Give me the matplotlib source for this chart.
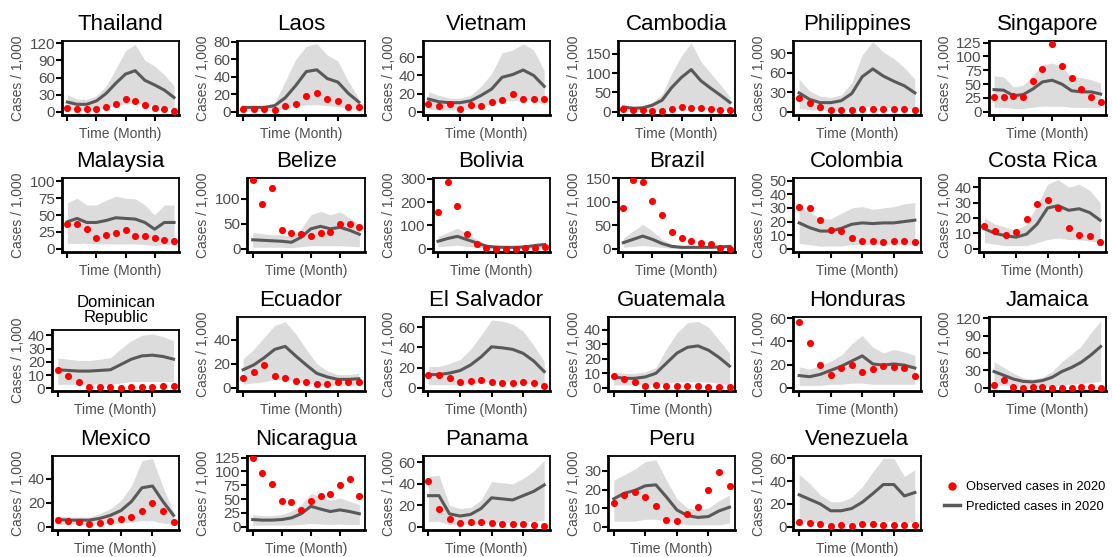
import matplotlib.pyplot as plt
from matplotlib.lines import Line2D

plt.rcParams['font.family'] = ['Liberation Sans', 'DejaVu Sans']

months = list(range(1, 13))

countries = ['Thailand', 'Laos', 'Vietnam', 'Cambodia', 'Philippines', 'Singapore',
             'Malaysia', 'Belize', 'Bolivia', 'Brazil', 'Colombia', 'Costa Rica',
             'Dominican\nRepublic', 'Ecuador', 'El Salvador', 'Guatemala', 'Honduras', 'Jamaica',
             'Mexico', 'Nicaragua', 'Panama', 'Peru', 'Venezuela']

observed = [
    [6, 4, 4, 5, 8, 13, 22, 18, 11, 6, 4, 2],
    [3, 3, 3, 2, 7, 9, 18, 22, 15, 12, 5, 5],
    [9, 6, 8, 3, 7, 6, 11, 13, 20, 14, 14, 14],
    [6, 5, 4, 2, 3, 6, 12, 10, 9, 7, 5, 5],
    [21, 14, 7, 2, 2, 2, 4, 4, 4, 4, 4, 2],
    [26, 27, 28, 26, 56, 78, 123, 83, 61, 42, 26, 18],
    [36, 36, 30, 16, 21, 24, 28, 19, 19, 16, 13, 11],
    [138, 90, 122, 38, 31, 29, 26, 31, 34, 49, 49, 43],
    [158, 285, 182, 62, 22, 3, 1, 1, 1, 2, 4, 8],
    [88, 147, 143, 101, 73, 35, 23, 16, 13, 10, 2, 0],
    [31, 30, 21, 14, 13, 8, 6, 6, 5, 6, 6, 5],
    [14.5, 11.5, 9, 11, 19.5, 29, 31.5, 26.5, 13.5, 9, 8.5, 4.5],
    [14, 9, 4.5, 1, 1, 1, 0.5, 1, 1, 1, 1.5, 1.5],
    [8, 13.5, 19, 9.5, 8.5, 5.5, 4.5, 3.5, 3.5, 5, 5, 4.5],
    [13, 12.5, 9.5, 6, 6.5, 7.5, 6, 4.5, 5, 5.5, 4.5, 2],
    [8, 6, 4, 1.5, 2, 1.5, 1.5, 1, 1, 0.5, 0.5, 0.5],
    [57, 39, 20, 11, 17, 19.5, 13.5, 16.5, 18.5, 17.5, 17, 10.5],
    [5, 13, 2, 0, 1, 1.5, 0, 0, 0, 0.5, 1, 0],
    [6, 5, 4, 2, 3.5, 5, 6.5, 8.5, 13.5, 20, 13, 4],
    [125, 98, 77, 46, 45, 31, 46, 56, 59, 76, 87, 56],
    [43, 17, 7.5, 3.5, 4, 4, 3.5, 3, 2.5, 3, 2, 0.5],
    [13, 17, 18.5, 16, 11, 3.5, 3, 7, 10.5, 19.5, 29.5, 22],
    [4.5, 3.5, 2, 1, 1.5, 1, 2, 2, 1.5, 1.5, 1.5, 1.5],
]

predicted = [
    [17, 13, 13, 19, 32, 50, 66, 72, 55, 47, 38, 25],
    [5, 5, 5, 7, 16, 30, 46, 48, 38, 34, 21, 11],
    [14, 11, 10, 10, 12, 18, 25, 38, 41, 46, 40, 28],
    [12, 9, 10, 17, 30, 63, 89, 109, 80, 61, 43, 24],
    [29, 19, 14, 14, 17, 28, 54, 66, 55, 47, 40, 29],
    [40, 39, 29, 31, 41, 54, 57, 50, 38, 36, 36, 32],
    [40, 45, 39, 39, 42, 46, 45, 44, 39, 29, 39, 39],
    [18, 17, 16, 15, 13, 23, 40, 45, 40, 43, 37, 29],
    [32, 44, 53, 39, 25, 11, 7, 6, 6, 8, 14, 18],
    [13, 20, 27, 20, 11, 5, 3, 3, 3, 3, 4, 5],
    [19, 15.5, 13, 13, 15, 18, 19, 18.5, 19, 19, 20, 21],
    [13, 10, 8.5, 7.5, 9.5, 16, 26.5, 28, 25, 26, 23.5, 18.5],
    [14, 13.5, 13, 13, 13.5, 14, 18, 22, 24.5, 25, 24, 22],
    [15, 19, 25, 32, 34.5, 26.5, 19, 12, 9, 7, 7, 7.5],
    [13, 13, 14.5, 17, 22.5, 30.5, 40.5, 39.5, 38, 34, 26.5, 16],
    [7.5, 6.5, 6.5, 7.5, 10, 17, 24, 28, 29, 26, 21, 15],
    [10.5, 9.5, 11.5, 15, 18.5, 23, 27.5, 20.5, 19.5, 20.5, 19.5, 17],
    [28, 21.5, 15, 11, 10, 12.5, 18, 28, 35, 44, 56.5, 71],
    [6, 5.5, 5.5, 5.5, 7, 9.5, 13.5, 21, 32.5, 34, 21, 9.5],
    [13, 12, 12, 13, 16, 23.5, 37, 32, 27.5, 30.5, 27.5, 23.5],
    [29, 29, 12, 10, 11.5, 17, 27, 26, 25, 29, 33, 39],
    [15, 18, 19.5, 22, 22.5, 16, 9, 6, 5, 5.5, 8.5, 10.5],
    [28, 24, 20, 14, 14, 16, 21.5, 29, 37, 37, 27, 30],
]

lower = [
    [5, 3, 3, 4, 6, 10, 14, 15, 12, 10, 8, 5],
    [1, 1, 1, 2, 4, 6, 8, 8, 7, 6, 4, 2],
    [3, 2, 2, 2, 3, 5, 8, 12, 12, 14, 12, 8],
    [2, 2, 2, 3, 5, 8, 10, 12, 9, 7, 5, 3],
    [5, 3, 2, 2, 3, 4, 7, 8, 7, 6, 5, 4],
    [8, 8, 6, 6, 8, 10, 10, 10, 8, 8, 8, 7],
    [8, 8, 8, 7, 7, 7, 7, 7, 6, 5, 6, 6],
    [3, 3, 3, 3, 2, 4, 6, 6, 6, 6, 5, 4],
    [8, 12, 15, 10, 6, 2, 1, 1, 1, 2, 3, 4],
    [3, 5, 7, 5, 3, 1, 1, 1, 1, 1, 1, 1],
    [4, 3, 2, 2, 2, 3, 3, 3, 3, 3, 3, 3],
    [4, 3, 2, 2, 2, 4, 6, 7, 6, 6, 5, 4],
    [3, 3, 3, 3, 3, 3, 4, 5, 5, 5, 5, 5],
    [3, 4, 5, 7, 7, 5, 4, 3, 2, 2, 2, 2],
    [3, 3, 3, 3, 4, 5, 6, 6, 6, 5, 4, 3],
    [2, 2, 2, 2, 2, 3, 4, 4, 4, 4, 3, 2],
    [2, 2, 2, 3, 3, 4, 4, 3, 3, 3, 3, 3],
    [5, 4, 3, 2, 2, 2, 3, 5, 6, 7, 9, 11],
    [2, 2, 2, 2, 2, 3, 3, 4, 5, 5, 3, 2],
    [3, 3, 3, 3, 3, 4, 6, 5, 4, 5, 4, 4],
    [5, 5, 2, 2, 2, 3, 4, 4, 4, 4, 5, 6],
    [3, 3, 3, 4, 4, 3, 2, 1, 1, 1, 1, 2],
    [5, 4, 3, 2, 2, 2, 3, 4, 5, 5, 4, 4],
]

upper = [
    [30, 22, 22, 28, 45, 75, 107, 118, 90, 80, 65, 45],
    [7, 7, 7, 10, 35, 60, 75, 78, 65, 58, 35, 15],
    [22, 18, 15, 15, 18, 28, 42, 65, 68, 75, 68, 45],
    [20, 14, 15, 25, 45, 100, 145, 178, 130, 100, 70, 38],
    [50, 32, 24, 22, 26, 45, 88, 108, 92, 82, 68, 50],
    [65, 63, 45, 48, 65, 85, 88, 82, 62, 62, 58, 52],
    [68, 75, 65, 65, 72, 78, 75, 74, 65, 50, 65, 65],
    [33, 30, 28, 28, 25, 40, 68, 75, 68, 74, 62, 48],
    [52, 70, 88, 65, 40, 18, 10, 10, 10, 12, 20, 28],
    [22, 38, 52, 38, 20, 10, 7, 6, 6, 6, 8, 9],
    [32, 27, 22, 22, 26, 30, 31, 29, 30, 31, 33, 34],
    [20, 16, 14, 12, 16, 28, 42, 45, 40, 42, 38, 30],
    [23, 22, 21, 21, 22, 23, 30, 36, 40, 41, 39, 36],
    [24, 32, 42, 52, 55, 45, 32, 20, 14, 11, 11, 12],
    [21, 21, 24, 28, 38, 52, 67, 66, 63, 56, 42, 26],
    [11, 10, 10, 11, 14, 27, 38, 45, 46, 42, 33, 24],
    [18, 16, 19, 23, 28, 38, 45, 35, 30, 33, 31, 28],
    [45, 35, 25, 17, 15, 18, 28, 45, 58, 72, 95, 115],
    [9, 8, 8, 8, 11, 15, 22, 34, 55, 57, 33, 12],
    [22, 20, 20, 22, 28, 40, 60, 55, 48, 52, 46, 40],
    [47, 48, 20, 17, 18, 25, 42, 41, 40, 45, 52, 62],
    [25, 28, 31, 35, 36, 25, 15, 10, 9, 10, 14, 17],
    [46, 38, 28, 22, 22, 26, 35, 48, 60, 60, 44, 50],
]

y_ticks = [
    [0, 30, 60, 90, 120], [0, 20, 40, 60, 80], [0, 20, 40, 60], [0, 50, 100, 150],
    [0, 30, 60, 90], [0, 25, 50, 75, 100, 125],
    [0, 25, 50, 75, 100], [0, 50, 100], [0, 100, 200, 300], [0, 50, 100, 150],
    [0, 10, 20, 30, 40, 50], [0, 10, 20, 30, 40],
    [0, 10, 20, 30, 40], [0, 20, 40], [0, 20, 40, 60], [0, 10, 20, 30, 40],
    [0, 20, 40, 60], [0, 30, 60, 90, 120],
    [0, 20, 40], [0, 25, 50, 75, 100, 125], [0, 20, 40, 60], [0, 10, 20, 30],
    [0, 20, 40, 60],
]

y_top = [124, 81, 78, 183, 109, 128,
         105, 142, 303, 151, 52, 46,
         44, 59, 70, 49, 61, 122,
         59, 128, 66, 38, 62]

W, H = 1112, 557
fig = plt.figure(figsize=(W / 100, H / 100), dpi=100)

cell_w = W / 6
row_top = [41, 178, 317, 456]
panel_h = 74
grey = '#4d4d4d'

for i, name in enumerate(countries):
    r, c = divmod(i, 6)
    wide = max(len(str(t)) for t in y_ticks[i]) >= 3
    left = c * cell_w + (62 if wide else 52)
    right = (c + 1) * cell_w - 6
    top = row_top[r] + (13 if '\n' in name else 0)
    bottom = row_top[r] + panel_h
    ax = fig.add_axes([left / W, 1 - bottom / H, (right - left) / W, (bottom - top) / H])

    ax.fill_between(months, lower[i], upper[i], color='#dcdcdc', lw=0)
    ax.plot(months, predicted[i], color='#595959', lw=2.2)
    ax.scatter(months, observed[i], s=26, color='red', lw=0, zorder=3)

    ax.set_xlim(0.45, 12.55)
    ax.set_ylim(-0.046 * y_top[i], y_top[i])
    ax.set_xticks([1, 4, 7, 10])
    ax.set_xticklabels([])
    ax.set_yticks(y_ticks[i])
    ax.tick_params(length=4, width=1.5, color='black', labelsize=11,
                   labelcolor=grey, pad=1)
    for s in ['left', 'bottom']:
        ax.spines[s].set_linewidth(2.0)
    for s in ['top', 'right']:
        ax.spines[s].set_linewidth(1.3)

    if '\n' in name:
        ax.set_title(name, fontsize=12, pad=6, linespacing=0.95)
    else:
        ax.set_title(name, fontsize=16, pad=8)

    ax.set_ylabel('Cases / 1,000', fontsize=10, color=grey)
    ax.yaxis.set_label_coords((c * cell_w + 25) / W, 1 - (top + bottom) / 2 / H,
                              transform=fig.transFigure)
    ax.set_xlabel('Time (Month)', fontsize=10, color=grey)
    ax.xaxis.set_label_coords((left + right) / 2 / W, 1 - (bottom + 12) / H,
                              transform=fig.transFigure)

handles = [Line2D([], [], marker='o', color='red', ls='none', markersize=5),
           Line2D([], [], color='#595959', lw=2.5)]
fig.legend(handles, ['Observed cases in 2020', 'Predicted cases in 2020'],
           loc='center left', bbox_to_anchor=(932 / W, 1 - 497 / H), frameon=False,
           fontsize=9.3, handlelength=1.3, handletextpad=0.4, labelspacing=0.55)

fig.savefig('out.png', dpi=100)
